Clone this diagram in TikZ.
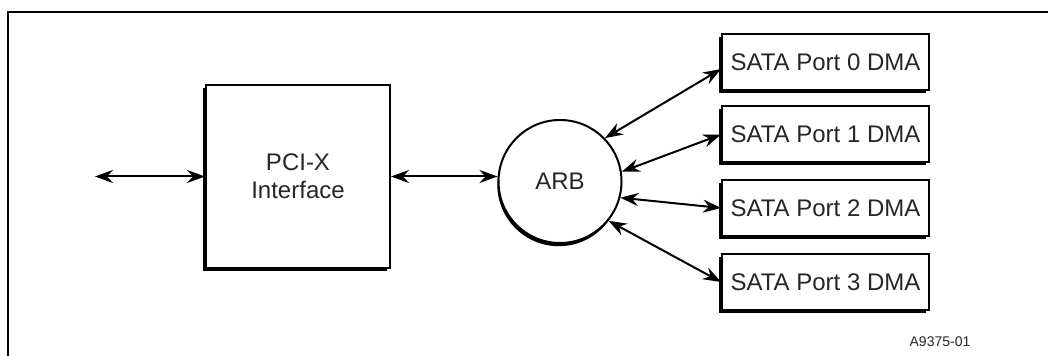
\documentclass[tikz,border=0pt]{standalone}
\usepackage{fontspec}
\setmainfont{Liberation Sans}
\usetikzlibrary{arrows.meta,shadows}
\tikzset{
  block/.style={draw, line width=1pt, fill=white, text=black!85,
    font=\fontsize{12}{14}\selectfont, align=center,
    drop shadow={shadow xshift=-1.4pt, shadow yshift=-1.4pt, fill=black, opacity=1}},
  portbox/.style={block, minimum width=103.5pt, minimum height=28pt, inner sep=0pt},
  arbiter/.style={draw, circle, line width=1pt, fill=white, text=black!85,
    minimum size=61.5pt, inner sep=0pt, font=\fontsize{12}{14}\selectfont,
    drop shadow={shadow xshift=-0.6pt, shadow yshift=-1.6pt, fill=black, opacity=1}},
  link/.style={line width=1pt, >={Stealth[length=9pt,width=6.5pt,inset=3pt]}, <->}
}
\begin{document}
\begin{tikzpicture}[x=0.5pt, y=-0.5pt]
  \useasboundingbox (0,0) rectangle (1048,356);
  % frame
  \draw[line width=1.2pt] (8,356) -- (8,12) -- (1048,12);
  % blocks
  \node[block, minimum width=92pt, minimum height=91.5pt] (pcix) at (298,176.5) {PCI-X\\Interface};
  \node[arbiter] (arb) at (560,181.5) {ARB};
  \node[portbox] (port0) at (825.5,62) {SATA Port 0 DMA};
  \node[portbox] (port1) at (825.5,134.5) {SATA Port 1 DMA};
  \node[portbox] (port2) at (825.5,208) {SATA Port 2 DMA};
  \node[portbox] (port3) at (825.5,282) {SATA Port 3 DMA};
  \coordinate (bus) at (95,176.5);
  % links
  \draw[link] (bus) -- (pcix.west);
  \draw[link] (pcix.east) -- (arb.west |- pcix.east);
  \draw[link] (arb.44) -- ([yshift=-3.5pt]port0.west);
  \draw[link] (arb.9) -- (port1.west);
  \draw[link] (arb.-15) -- (port2.west);
  \draw[link] (arb.-39) -- (port3.west);
  % figure number
  \node[text=black!85, font=\fontsize{7}{8}\selectfont] (fignum) at (940,342) {A9375-01};
\end{tikzpicture}
\end{document}
